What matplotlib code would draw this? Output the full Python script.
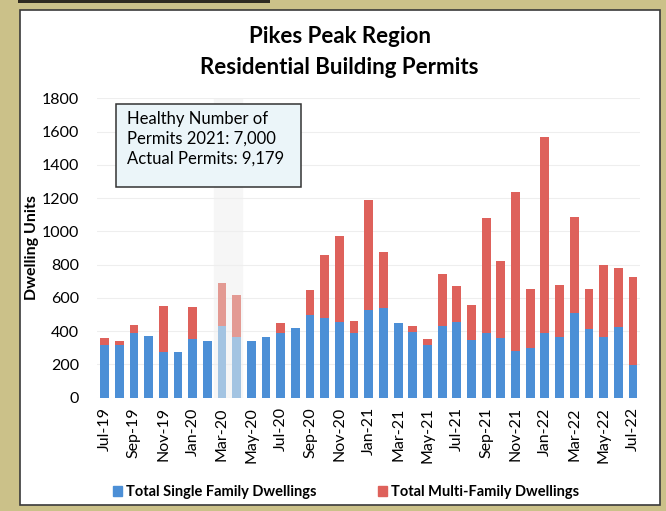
import matplotlib
matplotlib.use("Agg")
import matplotlib.pyplot as plt
from matplotlib.patches import Rectangle, Patch
import numpy as np

months = ["Jul-19", "Aug-19", "Sep-19", "Oct-19", "Nov-19", "Dec-19",
          "Jan-20", "Feb-20", "Mar-20", "Apr-20", "May-20", "Jun-20",
          "Jul-20", "Aug-20", "Sep-20", "Oct-20", "Nov-20", "Dec-20",
          "Jan-21", "Feb-21", "Mar-21", "Apr-21", "May-21", "Jun-21",
          "Jul-21", "Aug-21", "Sep-21", "Oct-21", "Nov-21", "Dec-21",
          "Jan-22", "Feb-22", "Mar-22", "Apr-22", "May-22", "Jun-22",
          "Jul-22"]
single_family = [315, 318, 388, 368, 276, 272, 352, 342, 430, 362, 342, 362,
                 388, 418, 497, 478, 453, 391, 528, 541, 447, 397, 317, 431,
                 457, 347, 387, 361, 282, 297, 387, 363, 508, 413, 367, 423,
                 196]
multi_family = [40, 24, 48, 0, 277, 0, 191, 0, 260, 257, 0, 0,
                60, 0, 152, 381, 517, 70, 663, 334, 0, 36, 34, 315,
                211, 211, 691, 460, 953, 355, 1182, 315, 579, 241, 428, 356,
                532]
faded = ["Mar-20", "Apr-20"]

blue = "#4c8fd6"
red = "#de615b"
blue_faded = "#a3c4e2"
red_faded = "#e39a93"

plt.rcParams["font.family"] = ["Lato", "DejaVu Sans"]

fig = plt.figure(figsize=(6.66, 5.11), dpi=100, facecolor="#cbc189")

# white chart panel with a dark frame, as in the scanned page
fig.patches.append(Rectangle((20 / 666, 6 / 511), 640 / 666, 495 / 511,
                             transform=fig.transFigure, facecolor="white",
                             edgecolor="#3a3a3a", linewidth=1.2, zorder=-2))
fig.patches.append(Rectangle((18 / 666, 508 / 511), 252 / 666, 3 / 511,
                             transform=fig.transFigure, facecolor="#2e2a20",
                             edgecolor="none", zorder=-2))

ax = fig.add_axes([0.146, 0.2221, 0.8154, 0.5855])
ax.set_facecolor("white")

x = np.arange(len(months))
blue_cols = [blue_faded if m in faded else blue for m in months]
red_cols = [red_faded if m in faded else red for m in months]

ax.axvspan(7.45, 9.35, color="#f6f6f6", zorder=0)
ax.bar(x, single_family, width=0.6, color=blue_cols, zorder=2)
ax.bar(x, multi_family, width=0.6, bottom=single_family, color=red_cols, zorder=2)

ax.set_xlim(-0.5, len(months) - 0.5)
ax.set_ylim(0, 1800)
ax.set_yticks(range(0, 1801, 200))
ax.yaxis.grid(True, color="#eeeeee", linewidth=0.8, zorder=0)
ax.set_axisbelow(True)
ax.set_xticks(x[::2])
ax.set_xticklabels(months[::2], rotation=90, fontsize=11.5)
ax.tick_params(axis="y", labelsize=11.5, pad=13, length=0)
ax.tick_params(axis="x", pad=7, length=0)
for s in ax.spines.values():
    s.set_visible(False)

ax.set_ylabel("Dwelling Units", fontsize=11.5, fontweight="bold")
ax.yaxis.set_label_coords(-0.108, 0.5)

# annotation box
ax.add_patch(Rectangle((0.0346, 0.7035), 0.3405, 0.2775, transform=ax.transAxes,
                       facecolor="#ebf5f9", edgecolor="#333333", linewidth=1.1,
                       zorder=3))
ax.text(0.055, 0.957, "Healthy Number of\nPermits 2021: 7,000\nActual Permits: 9,179",
        transform=ax.transAxes, va="top", ha="left", fontsize=12,
        linespacing=1.3, zorder=4)

fig.text(0.51, 0.928, "Pikes Peak Region", ha="center", va="center",
         fontsize=16, fontweight="bold")
fig.text(0.51, 0.867, "Residential Building Permits", ha="center", va="center",
         fontsize=16, fontweight="bold")

handles = [Patch(color=blue, label="Total Single Family Dwellings"),
           Patch(color=red, label="Total Multi-Family Dwellings")]
fig.legend(handles=handles, loc="center", bbox_to_anchor=(0.52, 0.037), ncol=2,
           frameon=False, handlelength=0.6, handleheight=0.6, handletextpad=0.3,
           columnspacing=4.2, prop={"weight": "bold", "size": 10.5})

fig.savefig("out.png", dpi=100, facecolor=fig.get_facecolor())
